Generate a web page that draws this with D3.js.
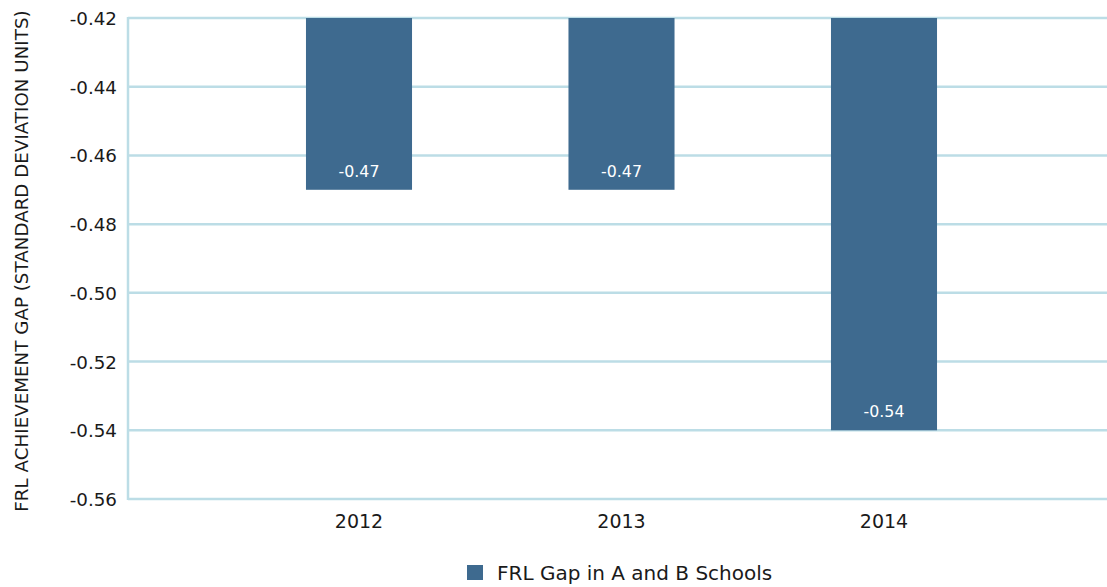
<!DOCTYPE html>
<html><head><meta charset="utf-8">
<script src="https://cdn.jsdelivr.net/npm/d3@7"></script>
<style>body{margin:0;background:#fff;}svg{display:block;font-family:"DejaVu Sans",sans-serif;}</style>
</head><body><svg id="c" width="1107" height="587"></svg>
<script>
const categories = ["2012", "2013", "2014"];
const values = [-0.47, -0.47, -0.54];
const labels = ["-0.47", "-0.47", "-0.54"];
const yTicks = [-0.42, -0.44, -0.46, -0.48, -0.50, -0.52, -0.54, -0.56];
const seriesName = "FRL Gap in A and B Schools";
const yTitle = "FRL ACHIEVEMENT GAP (STANDARD DEVIATION UNITS)";

(function () {
const svg = d3.select("#c");
const pL = 128, pR = 1107, pT = 18, pB = 499;
const grid = "#bcdde6", barColor = "#3e6a8f", ink = "#1a1a1a";

const y = d3.scaleLinear().domain([-0.56, -0.42]).range([pB, pT]);
const x = d3.scalePoint().domain(categories).range([359, 884]);
const bw = x.step() * 0.404;

svg.append("g").selectAll("line").data(yTicks).join("line")
  .attr("x1", pL).attr("x2", pR)
  .attr("y1", d => y(d)).attr("y2", d => y(d))
  .attr("stroke", grid).attr("stroke-width", 2.5);
svg.append("line").attr("x1", pL).attr("x2", pL).attr("y1", pT - 1).attr("y2", pB + 1)
  .attr("stroke", grid).attr("stroke-width", 2.5);

svg.append("g").selectAll("rect").data(values).join("rect")
  .attr("x", (d, i) => x(categories[i]) - bw / 2)
  .attr("width", bw)
  .attr("y", y(-0.42))
  .attr("height", d => y(d) - y(-0.42))
  .attr("fill", barColor);

svg.append("g").selectAll("text").data(values).join("text")
  .attr("x", (d, i) => x(categories[i]))
  .attr("y", d => y(d) - 13)
  .attr("text-anchor", "middle").attr("fill", "#fff").attr("font-size", 15.8)
  .text((d, i) => labels[i]);

svg.append("g").selectAll("text").data(yTicks).join("text")
  .attr("x", 117).attr("y", d => y(d) + 7)
  .attr("text-anchor", "end").attr("font-size", 18.3).attr("fill", ink)
  .text(d => d.toFixed(2));

svg.append("g").selectAll("text").data(categories).join("text")
  .attr("x", d => x(d)).attr("y", 528)
  .attr("text-anchor", "middle").attr("font-size", 19).attr("fill", ink)
  .text(d => d);

svg.append("text").attr("transform", "translate(28,261) rotate(-90)")
  .attr("text-anchor", "middle").attr("font-size", 18.3).attr("fill", ink)
  .text(yTitle);

svg.append("rect").attr("x", 467).attr("y", 565).attr("width", 16).attr("height", 15).attr("fill", barColor);
svg.append("text").attr("x", 497).attr("y", 580).attr("font-size", 20).attr("fill", ink)
  .text(seriesName);
})();
</script></body></html>
